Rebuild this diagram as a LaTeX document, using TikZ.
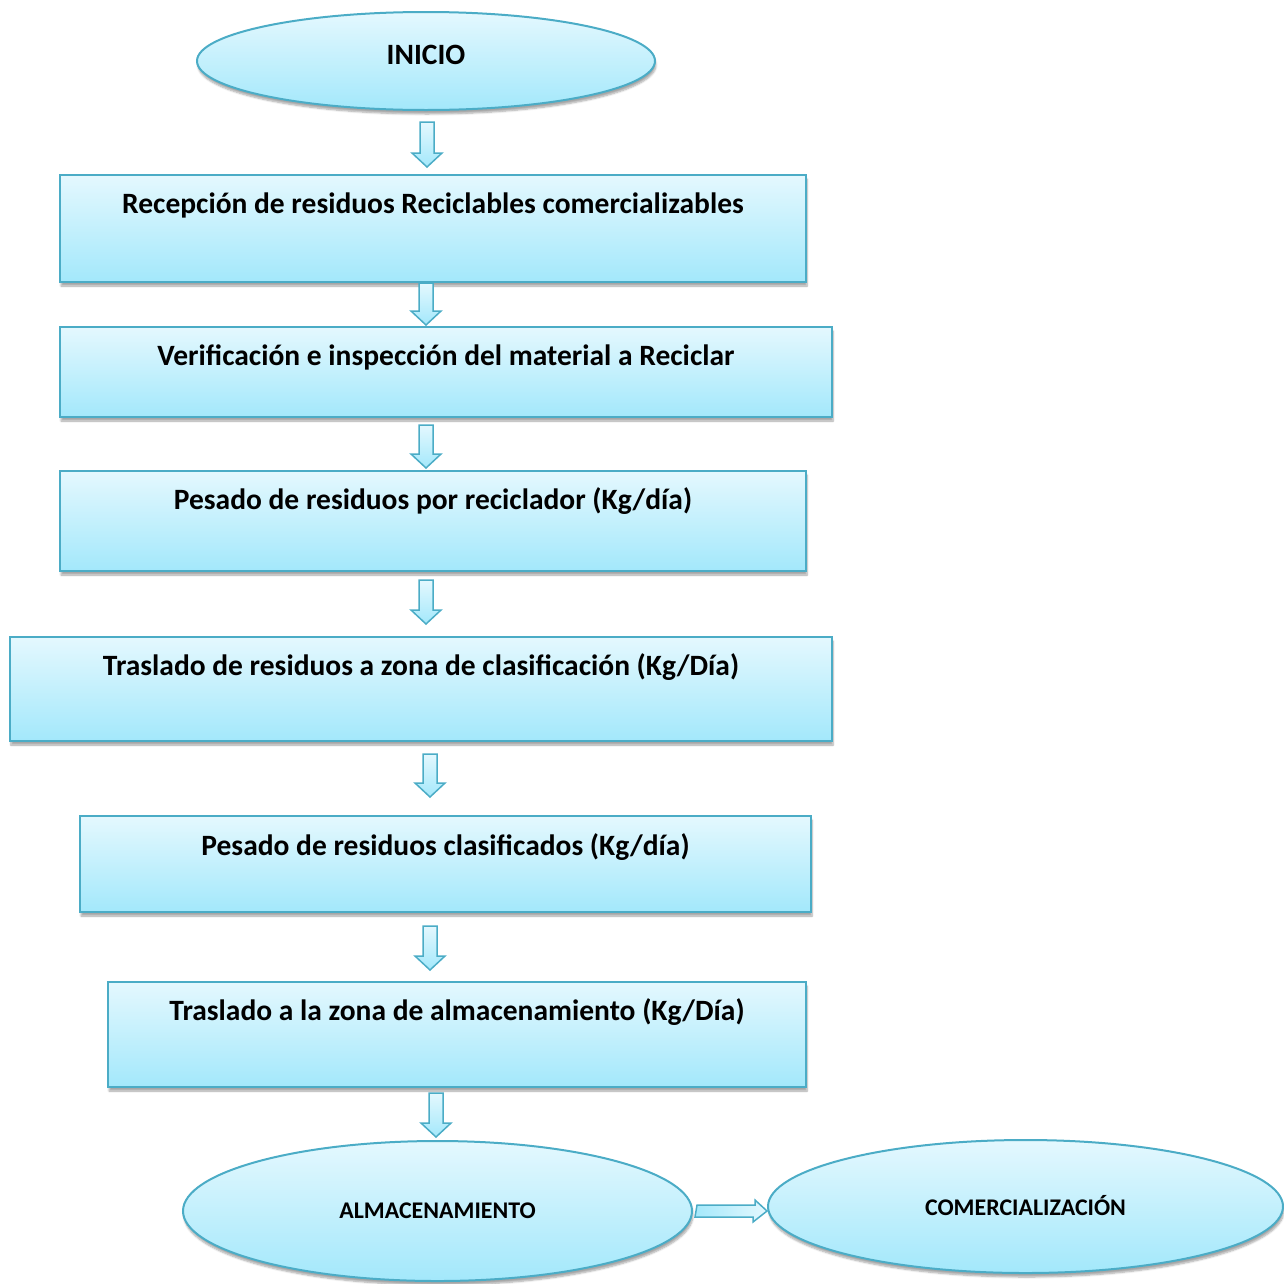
\documentclass[tikz,border=0pt]{standalone}
\usepackage{fontspec}
\setmainfont{Carlito}
\usetikzlibrary{shapes.geometric,shadows.blur,calc}
\definecolor{bord}{HTML}{4BACC6}
\definecolor{ctop}{HTML}{E4F8FE}
\definecolor{cbot}{HTML}{A3E8FB}
\tikzset{
 boxsty/.style={draw=bord, line width=2pt, top color=ctop, bottom color=cbot, inner sep=0pt,
   blur shadow={shadow xshift=1pt, shadow yshift=-4pt, shadow blur steps=6, shadow opacity=35}},
 rectsty/.style={boxsty, rectangle},
 ellsty/.style={boxsty, ellipse},
 txt/.style={font=\fontsize{29.5}{34}\selectfont\bfseries, inner sep=0pt},
 stxt/.style={font=\fontsize{23.9}{28}\selectfont\bfseries, inner sep=0pt},
 arr/.style={draw=bord, line width=1.5pt, top color=ctop, bottom color=cbot, line join=miter},
 harr/.style={draw=bord, line width=1.5pt, left color=cbot, right color=ctop, line join=miter},
}
\newcommand\vblockarrow[3]{%
  \path[arr] (#1-7,#2) -- (#1+7,#2) -- (#1+7,#3-14) -- (#1+15,#3-14) -- (#1,#3)
    -- (#1-15,#3-14) -- (#1-7,#3-14) -- cycle;}
\begin{document}
\begin{tikzpicture}[x=1pt,y=-1pt]
\useasboundingbox (0,0) rectangle (1284,1283);
% start
\node[ellsty, minimum width=458pt, minimum height=98pt] (ini) at (426,61) {};
\node[txt] (tini) at (426,55) {INICIO};
% boxes
\node[rectsty, minimum width=746pt, minimum height=107pt] (b1) at (433,228.5) {};
\node[txt] (t1) at ($(b1.north)+(0,31.5)$) {Recepción de residuos Reciclables comercializables};
\node[rectsty, minimum width=772pt, minimum height=90pt] (b2) at (446,372) {};
\node[txt] (t2) at ($(b2.north)+(0,31.5)$) {Verificación e inspección del material a Reciclar};
\node[rectsty, minimum width=746pt, minimum height=100pt] (b3) at (433,521) {};
\node[txt] (t3) at ($(b3.north)+(0,31.5)$) {Pesado de residuos por reciclador (Kg/día)};
\node[rectsty, minimum width=822pt, minimum height=104pt] (b4) at (421,689) {};
\node[txt] (t4) at ($(b4.north)+(0,31.5)$) {Traslado de residuos a zona de clasificación (Kg/Día)};
\node[rectsty, minimum width=731pt, minimum height=96pt] (b5) at (445.5,864) {};
\node[txt] (t5) at ($(b5.north)+(0,32.5)$) {Pesado de residuos clasificados (Kg/día)};
\node[rectsty, minimum width=698pt, minimum height=105pt] (b6) at (457,1034.5) {};
\node[txt] (t6) at ($(b6.north)+(0,31.5)$) {Traslado a la zona de almacenamiento (Kg/Día)};
% end ellipses
\node[ellsty, minimum width=509pt, minimum height=140pt] (alm) at (437.5,1211) {};
\node[stxt] (talm) at (437.5,1211) {ALMACENAMIENTO};
\node[ellsty, minimum width=515pt, minimum height=133pt] (com) at (1025.5,1206.5) {};
\node[stxt] (tcom) at (1025.5,1206) {COMERCIALIZACIÓN};
% arrows
\vblockarrow{427}{122}{167}
\vblockarrow{426}{283}{325}
\vblockarrow{426}{425}{468}
\vblockarrow{426}{580}{624}
\vblockarrow{430}{754}{797}
\vblockarrow{430}{926}{970}
\vblockarrow{436}{1093}{1137}
\path[harr] (alm.east) ++(4,-6) -- ++(58,0) -- ++(0,-5) -- (com.west |- alm.east) -- ++(-14,11) -- ++(0,-5) -- ++(-58,0) -- cycle;
\end{tikzpicture}
\end{document}
